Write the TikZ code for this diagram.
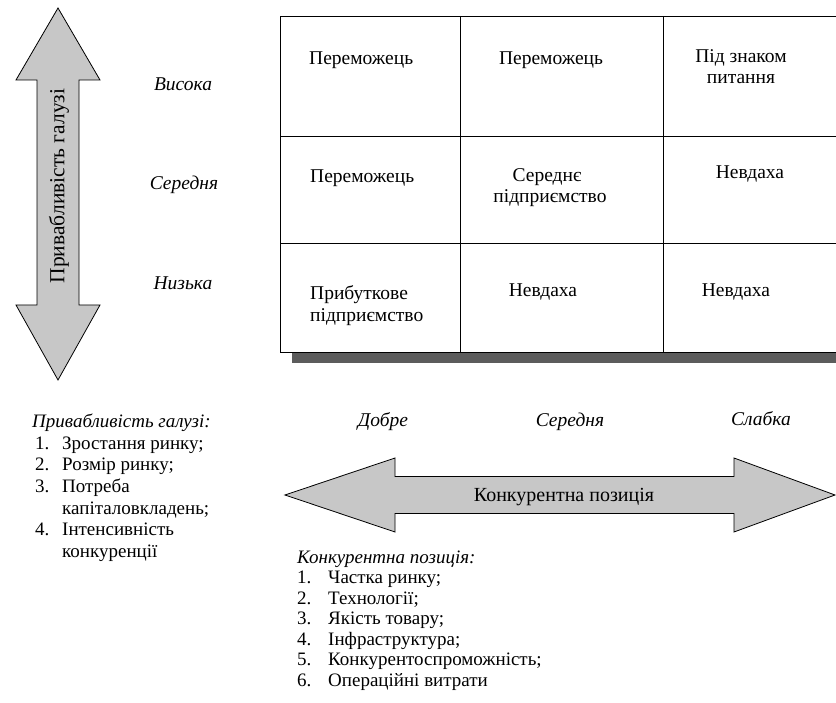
\documentclass[tikz,border=0pt]{standalone}
\usepackage{fontspec}
\setmainfont{Liberation Serif}
\definecolor{arrowfill}{gray}{0.78}
\definecolor{shadowfill}{gray}{0.36}
\begin{document}
\begin{tikzpicture}[x=1pt,y=-1pt,
  celltext/.style={font=\fontsize{19.5}{21}\selectfont, inner sep=0pt},
  axislabel/.style={font=\fontsize{19.5}{21}\itshape, inner sep=0pt, anchor=base},
  listtext/.style={font=\fontsize{19}{21}\selectfont, inner sep=0pt, anchor=base west},
  listtitle/.style={font=\fontsize{19}{21}\itshape, inner sep=0pt, anchor=base west},
  bigarrow/.style={draw=black, line width=0.8pt, fill=arrowfill, line join=miter},
  gridline/.style={draw=black, line width=0.8pt}]

\clip (0,0) rectangle (836,703);
\fill[white] (0,0) rectangle (836,703);

% vertical double arrow: industry attractiveness
\draw[bigarrow] (58,8) -- (100,80) -- (79,80) -- (79,305) -- (100,305) -- (58,380)
  -- (16,305) -- (37,305) -- (37,80) -- (16,80) -- cycle;
\node[font=\fontsize{21.5}{23}\selectfont, inner sep=0pt, rotate=90] (vlabel) at (59,186) {Привабливість галузі};

% level labels on the left
\node[axislabel] (high) at (183,91) {Висока};
\node[axislabel] (mid) at (184,190) {Середня};
\node[axislabel] (low) at (183,290) {Низька};

% matrix with drop shadow
\fill[shadowfill] (292,352) rectangle (880,363);
\fill[white] (280,16) rectangle (880,352);
\draw[gridline] (880,16) -- (280,16) -- (280,352) -- (880,352);
\draw[gridline] (280,136) -- (880,136);
\draw[gridline] (280,243) -- (880,243);
\draw[gridline] (460,16) -- (460,352);
\draw[gridline] (663,16) -- (663,352);

% row 1
\node[celltext, anchor=base west] (c11) at (309,65) {Переможець};
\node[celltext, anchor=base] (c12) at (551,65) {Переможець};
\node[celltext, anchor=base] (c13a) at (741,63) {Під знаком};
\node[celltext, anchor=base] (c13b) at (741,84) {питання};
% row 2
\node[celltext, anchor=base west] (c21) at (310,183) {Переможець};
\node[celltext, anchor=base] (c22a) at (547,182) {Середнє};
\node[celltext, anchor=base] (c22b) at (550,203) {підприємство};
\node[celltext, anchor=base] (c23) at (750,179) {Невдаха};
% row 3
\node[celltext, anchor=base west] (c31a) at (310,300) {Прибуткове};
\node[celltext, anchor=base west] (c31b) at (310,322) {підприємство};
\node[celltext, anchor=base] (c32) at (543,297) {Невдаха};
\node[celltext, anchor=base] (c33) at (736,297) {Невдаха};

% position labels under the matrix
\node[axislabel] (good) at (383,427) {Добре};
\node[axislabel] (avg) at (570,427) {Середня};
\node[axislabel] (weak) at (761,425) {Слабка};

% horizontal double arrow: competitive position
\draw[bigarrow] (285,495) -- (395,458) -- (395,476.5) -- (734,476.5) -- (734,458) -- (835,495)
  -- (734,532) -- (734,513.5) -- (395,513.5) -- (395,532) -- cycle;
\node[font=\fontsize{20}{22}\selectfont, inner sep=0pt] (hlabel) at (564,497) {Конкурентна позиція};

% list of attractiveness factors
\node[listtitle] (lt) at (32,428) {Привабливість галузі:};
\node[listtext] (ln1) at (35,449.5) {1.};
\node[listtext] (li1) at (62,449.5) {Зростання ринку;};
\node[listtext] (ln2) at (35,471) {2.};
\node[listtext] (li2) at (62,471) {Розмір ринку;};
\node[listtext] (ln3) at (35,492.5) {3.};
\node[listtext] (li3) at (62,492.5) {Потреба};
\node[listtext] (li3b) at (62,514) {капіталовкладень;};
\node[listtext] (ln4) at (35,535.5) {4.};
\node[listtext] (li4) at (62,535.5) {Інтенсивність};
\node[listtext] (li4b) at (62,557) {конкуренції};

% list of competitive position factors
\node[listtitle] (rt) at (297,563) {Конкурентна позиція:};
\node[listtext] (rn1) at (297,583.5) {1.};
\node[listtext] (ri1) at (328,583.5) {Частка ринку;};
\node[listtext] (rn2) at (297,604) {2.};
\node[listtext] (ri2) at (328,604) {Технології;};
\node[listtext] (rn3) at (297,624.5) {3.};
\node[listtext] (ri3) at (328,624.5) {Якість товару;};
\node[listtext] (rn4) at (297,645) {4.};
\node[listtext] (ri4) at (328,645) {Інфраструктура;};
\node[listtext] (rn5) at (297,665.5) {5.};
\node[listtext] (ri5) at (328,665.5) {Конкурентоспроможність;};
\node[listtext] (rn6) at (297,686) {6.};
\node[listtext] (ri6) at (328,686) {Операційні витрати};
\end{tikzpicture}
\end{document}
